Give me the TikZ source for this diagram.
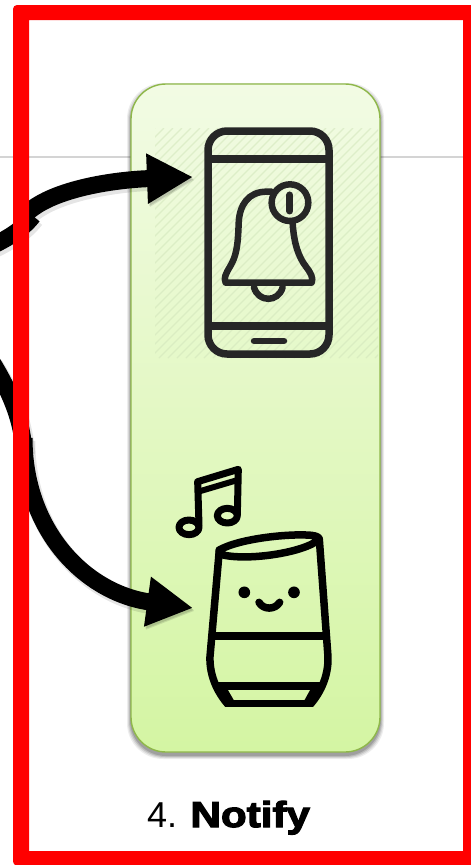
\documentclass[tikz,border=0pt]{standalone}
\usepackage{fontspec}
\setmainfont{Liberation Sans}
\newfontfamily\blackfont[FakeBold=3.5,FakeStretch=1.17]{Liberation Sans Bold}
\usetikzlibrary{arrows.meta}
\definecolor{frameRed}{HTML}{FF0000}
\definecolor{ruleGrey}{HTML}{D4D4D4}
\definecolor{panelTop}{HTML}{F2FBE4}
\definecolor{panelBot}{HTML}{D4F5A3}
\definecolor{panelEdge}{HTML}{8FB84A}
\definecolor{hatchCol}{HTML}{D3E6BC}
\definecolor{iconDark}{HTML}{262626}
\tikzset{
  softshadow/.style={
    preaction={draw=black,opacity=.10,line width=18.5pt,transform canvas={shift={(2pt,-3pt)}}},
    preaction={draw=black,opacity=.12,transform canvas={shift={(1.5pt,-2pt)}}}},
  bigline/.style={draw=black,line width=17pt,softshadow},
  bigarrow/.style={bigline,-{Triangle[length=46pt,width=47pt]}},
  phoneline/.style={draw=iconDark,line width=7.5pt},
  bellline/.style={draw=iconDark,line width=6.5pt,line cap=round,line join=round},
  speakerline/.style={draw=black,line width=7.5pt,line cap=round,line join=round},
  panelbox/.style={rectangle,rounded corners=35pt,minimum width=249pt,minimum height=668pt,
    draw=panelEdge,line width=1.4pt,top color=panelTop,bottom color=panelBot},
}
\begin{document}
\begin{tikzpicture}[x=1pt,y=-1pt]
\useasboundingbox (0,0) rectangle (471,865);
\clip (0,0) rectangle (471,865);
\fill[white] (0,0) rectangle (471,865);
% background rule
\draw[ruleGrey,line width=1.5pt] (0,157) -- (471,157);
% panel shadow
\foreach \g/\o in {4/.07,3/.09,2/.12,1/.15}{
  \fill[black,opacity=\o,rounded corners=36pt] (131-\g,87-\g) rectangle (380+\g,755+\g);
}
\node[panelbox] (panel) at (255.5,418) {};
% hatch
\begin{scope}
\clip (155,128) rectangle (378,358);
\foreach \k in {0,9,...,480}{
  \draw[hatchCol,line width=1.3pt,opacity=.6] (155+\k-230,358) -- (155+\k,128);
}
\end{scope}
% phone
\draw[phoneline,rounded corners=19pt] (208,131) rectangle (329,354);
\draw[phoneline] (208,159) -- (329,159);
\draw[phoneline] (208,326) -- (329,326);
\draw[draw=iconDark,line width=6.5pt,line cap=round] (254,341) -- (284,341);
% bell (zoomed coordinates)
\begin{scope}[shift={(130,80)},x=.3333pt,y=-.3333pt]
\draw[bellline] (425,335) -- (410,335) .. controls (355,335) and (328,375) .. (326,430)
  .. controls (324,500) and (318,530) .. (300,560) .. controls (288,580) and (280,595) .. (287,608)
  -- (545,608) .. controls (552,595) and (540,575) .. (528,560) .. controls (505,530) and (492,490) .. (488,430);
\draw[bellline] (480,368) circle (55);
\draw[bellline,line width=7pt] (480,345) -- (480,393);
\draw[bellline] (372,622) .. controls (385,668) and (445,668) .. (458,622);
\end{scope}
% music note and speaker (zoomed coordinates)
\begin{scope}[shift={(130,450)},x=.3333pt,y=-.3333pt]
\draw[speakerline,line width=7pt] (177,232) ellipse [x radius=30,y radius=22];
\draw[speakerline,line width=7pt] (292,197) ellipse [x radius=30,y radius=22];
\draw[speakerline,line width=7pt] (207,225) -- (203,95) -- (325,58) -- (322,195);
\draw[speakerline,line width=6pt] (205,125) -- (323,90);
\begin{scope}
\clip (200,240) rectangle (620,770);
\draw[speakerline] (268,300) .. controls (330,265) and (480,250) .. (545,256) .. controls (560,258) and (568,262) .. (568,268)
  .. controls (520,310) and (340,335) .. (268,312) -- cycle;
\draw[speakerline] (268,300) -- (240,620) .. controls (238,680) and (265,735) .. (305,775);
\draw[speakerline] (568,268) -- (594,620) .. controls (596,680) and (570,735) .. (530,775);
\draw[speakerline] (252,558) -- (585,558);
\draw[speakerline] (265,708) -- (570,708);
\draw[speakerline] (278,715) -- (305,762) -- (530,762) -- (556,715);
\end{scope}
\fill[black] (343,427) circle (17.5);
\fill[black] (492,427) circle (17.5);
\draw[speakerline] (387,457) .. controls (400,480) and (435,480) .. (449,457);
\end{scope}
% connectors
\coordinate (topstart) at (-8,246);
\coordinate (topjoin) at (33,216);
\coordinate (topmid) at (26,214);
\coordinate (phonein) at (193,177);
\coordinate (lowstart) at (-8,362);
\coordinate (lowjoin) at (24,452);
\coordinate (lowmid) at (24,438);
\coordinate (speakerin) at (193,608);
\draw[bigline] (topstart) .. controls (8,238) and (22,230) .. (topjoin);
\draw[bigarrow] (topmid) .. controls (50,190) and (110,180) .. (phonein);
\draw[bigline] (lowstart) .. controls (6,385) and (22,415) .. (lowjoin);
\draw[bigarrow] (lowmid) .. controls (24,530) and (85,593) .. (speakerin);
% red frame
\fill[frameRed,even odd rule,rounded corners=4pt] (13,5) rectangle (490,865.5) [sharp corners] (29,20) rectangle (463,851);
% caption
\node[anchor=base west,inner sep=0pt,font=\fontsize{36}{40}\selectfont] (caption) at (147,827) {4. {\blackfont Notify}};
\end{tikzpicture}
\end{document}
